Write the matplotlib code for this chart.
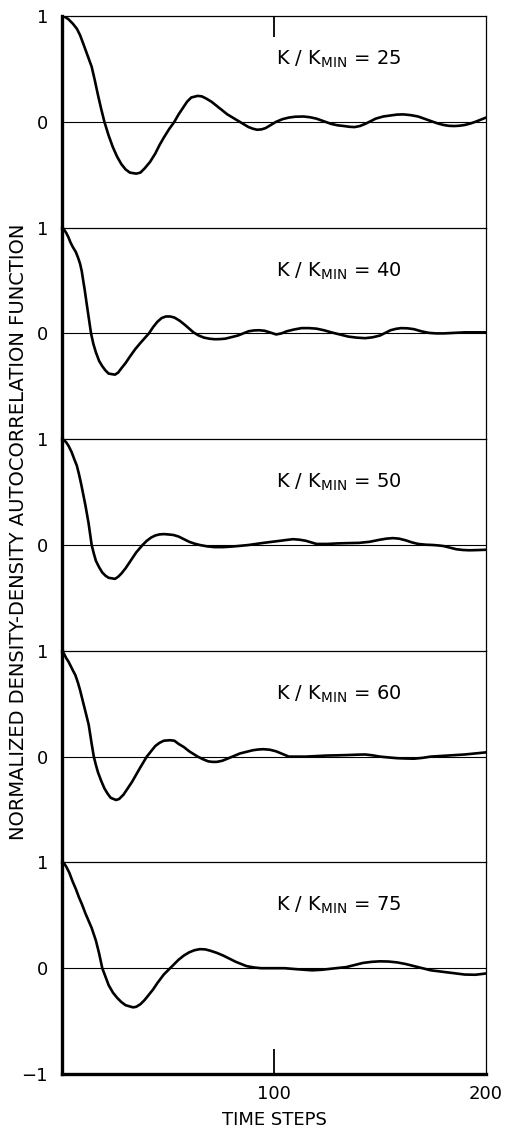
import matplotlib.pyplot as plt

# Valores (pasos de tiempo, autocorrelacion normalizada)
relaciones = [25, 40, 50, 60, 75]

t_25 = [0, 1.5, 3, 5, 7, 8.5, 10, 12, 14, 15.5, 17, 18.5, 20, 22, 24, 26, 28, 30, 32,
        35, 37, 39, 41.5, 44, 46, 48, 50.5, 53, 55, 57, 59, 61, 64, 66, 68, 70.5, 73,
        75.5, 78, 80.5, 83, 85.5, 88, 90, 92, 94, 96, 98.5, 101, 104, 107, 110, 114,
        117, 120, 123.5, 127, 130, 133, 135.5, 138, 140.5, 143, 145.5, 148, 151.5,
        155, 158, 161, 164.5, 168, 171.5, 175, 177.5, 180, 182.5, 185, 187.5, 190,
        192.5, 195, 197.5, 200]
c_25 = [1.0, 0.99, 0.97, 0.93, 0.88, 0.82, 0.74, 0.63, 0.52, 0.39, 0.25, 0.12, 0.0,
        -0.13, -0.24, -0.33, -0.40, -0.45, -0.48, -0.49, -0.48, -0.44, -0.38, -0.30,
        -0.22, -0.15, -0.07, 0.0, 0.07, 0.13, 0.19, 0.23, 0.245, 0.24, 0.22, 0.19,
        0.15, 0.11, 0.07, 0.04, 0.01, -0.02, -0.05, -0.065, -0.075, -0.072, -0.06,
        -0.03, 0.0, 0.025, 0.04, 0.048, 0.05, 0.043, 0.03, 0.005, -0.02, -0.033,
        -0.04, -0.047, -0.05, -0.04, -0.02, 0.005, 0.03, 0.05, 0.06, 0.068, 0.07,
        0.063, 0.05, 0.025, 0.0, -0.017, -0.03, -0.038, -0.04, -0.037, -0.03, -0.017,
        0.0, 0.02, 0.04]

t_40 = [0, 1, 2, 3, 4, 5, 6.5, 7.5, 8.5, 9.3, 10, 10.8, 11.5, 12.6, 13.7, 14.8, 16,
        17.5, 19, 20.5, 22, 25, 26.5, 28, 30, 32, 34.5, 37, 39, 41, 43, 45, 47, 49, 51,
        53, 55.5, 58, 60, 62, 64.5, 67, 69.5, 72, 74.5, 77, 80, 83, 85.5, 88, 90.5, 93,
        95.5, 98, 101, 103.5, 106, 109.5, 113, 116.5, 120, 123.5, 127, 131, 135, 139,
        143, 146.5, 150, 152.5, 155, 157.5, 160, 163, 166, 169.5, 173, 176.5, 180,
        185, 190, 195, 200]
c_40 = [1.0, 0.98, 0.95, 0.91, 0.86, 0.82, 0.77, 0.72, 0.66, 0.59, 0.5, 0.4, 0.3,
        0.15, 0.0, -0.1, -0.18, -0.26, -0.31, -0.35, -0.38, -0.39, -0.37, -0.33,
        -0.28, -0.22, -0.15, -0.09, -0.045, 0.0, 0.06, 0.11, 0.145, 0.16, 0.16, 0.15,
        0.12, 0.08, 0.045, 0.01, -0.02, -0.04, -0.05, -0.055, -0.054, -0.05, -0.035,
        -0.02, 0.0, 0.02, 0.028, 0.03, 0.025, 0.01, -0.01, 0.0, 0.02, 0.037, 0.05,
        0.05, 0.045, 0.03, 0.01, -0.01, -0.03, -0.04, -0.045, -0.037, -0.02, 0.005,
        0.03, 0.043, 0.05, 0.048, 0.04, 0.02, 0.005, 0.0, 0.0, 0.005, 0.01, 0.01, 0.01]

t_50 = [0, 1, 2, 3, 4.5, 6, 7, 8, 9, 10, 11, 12.5, 14, 15, 16, 17.5, 19, 20.5, 22, 25,
        26.5, 28, 30, 32, 35, 38, 40, 42, 44, 46, 48, 50, 52.5, 55, 57.5, 60, 62.5, 65,
        68.5, 72, 76, 80, 84, 88, 91.5, 95, 99, 103, 106, 109, 112, 115, 117.5, 120,
        125, 130, 135, 140, 145, 150, 153, 156, 159, 162, 165, 168, 171.5, 175, 177.5,
        180, 183, 186, 189, 192, 196, 200]
c_50 = [1.0, 0.99, 0.97, 0.94, 0.88, 0.8, 0.75, 0.67, 0.58, 0.48, 0.38, 0.21, 0.0,
        -0.08, -0.15, -0.21, -0.26, -0.29, -0.31, -0.32, -0.3, -0.27, -0.22, -0.16,
        -0.07, 0.0, 0.04, 0.07, 0.09, 0.1, 0.103, 0.1, 0.095, 0.08, 0.055, 0.03, 0.013,
        0.0, -0.013, -0.02, -0.02, -0.015, -0.008, 0.0, 0.01, 0.02, 0.03, 0.04, 0.048,
        0.055, 0.05, 0.04, 0.025, 0.01, 0.01, 0.015, 0.018, 0.02, 0.03, 0.05, 0.06,
        0.065, 0.06, 0.045, 0.025, 0.01, 0.003, 0.0, -0.004, -0.01, -0.025, -0.04,
        -0.047, -0.05, -0.048, -0.045]

t_60 = [0, 1, 2, 3, 4, 5, 6.3, 7.5, 8.5, 9.5, 10.5, 11.5, 12.6, 13.3, 14, 15, 16,
        17, 18.5, 20, 21.5, 23, 25.5, 27, 29, 31, 33, 35, 37, 38.5, 40, 42, 44, 46, 48,
        51, 53, 55, 57.5, 60, 62, 64, 66.5, 69, 71, 73, 75.5, 78, 81, 84, 87, 90, 92.5,
        95, 98, 101, 104, 107, 111, 115, 120, 125, 130, 135, 139, 143, 146.5, 150, 154,
        158, 162, 166, 170, 174, 178, 182, 186, 190, 195, 200]
c_60 = [1.0, 0.97, 0.93, 0.9, 0.86, 0.82, 0.77, 0.7, 0.63, 0.55, 0.47, 0.39, 0.3,
        0.21, 0.12, 0.0, -0.08, -0.15, -0.23, -0.30, -0.35, -0.39, -0.41, -0.4, -0.36,
        -0.3, -0.24, -0.17, -0.1, -0.05, 0.0, 0.05, 0.1, 0.13, 0.15, 0.155, 0.15, 0.12,
        0.09, 0.05, 0.025, 0.0, -0.025, -0.045, -0.05, -0.05, -0.04, -0.02, 0.005,
        0.03, 0.045, 0.06, 0.067, 0.07, 0.065, 0.05, 0.025, 0.0, 0.0, 0.0, 0.005, 0.01,
        0.012, 0.015, 0.018, 0.02, 0.012, 0.0, -0.008, -0.015, -0.018, -0.02, -0.012,
        0.0, 0.005, 0.01, 0.015, 0.02, 0.03, 0.04]

t_75 = [0, 1, 2, 3.5, 5, 6.5, 8, 9.5, 11, 12.5, 14, 16, 17.5, 19, 20.5, 22, 24, 26,
        28, 30, 33.5, 35, 37, 39, 41, 43, 45, 48, 51, 53, 55, 57.5, 60, 62.5, 65,
        67.5, 70, 73, 76, 79, 82, 84.5, 87, 90.5, 94, 100, 105, 111, 118, 122.5, 127,
        130.5, 134, 138, 142, 146, 150, 154, 158, 162, 166, 170, 174, 178, 182, 186,
        190, 195, 200]
c_75 = [1.0, 0.99, 0.96, 0.9, 0.82, 0.75, 0.67, 0.6, 0.52, 0.45, 0.38, 0.26, 0.14,
        0.0, -0.08, -0.16, -0.23, -0.28, -0.32, -0.35, -0.37, -0.365, -0.34, -0.3,
        -0.25, -0.2, -0.14, -0.06, 0.0, 0.04, 0.08, 0.12, 0.15, 0.17, 0.18, 0.178,
        0.165, 0.145, 0.12, 0.09, 0.06, 0.04, 0.02, 0.007, 0.0, 0.0, 0.0, -0.01, -0.02,
        -0.015, -0.005, 0.003, 0.01, 0.03, 0.05, 0.06, 0.065, 0.063, 0.055, 0.04, 0.02,
        0.0, -0.02, -0.03, -0.04, -0.05, -0.06, -0.062, -0.05]

tiempos = [t_25, t_40, t_50, t_60, t_75]
curvas = [c_25, c_40, c_50, c_60, c_75]

plt.rcParams['mathtext.default'] = 'regular'

W, H = 512, 1131
fig = plt.figure(figsize=(W / 100, H / 100), dpi=100)

izq, der = 62, 486
arriba, alto = 16, 211.6

for i, (rel, t, c) in enumerate(zip(relaciones, tiempos, curvas)):
    y_sup = arriba + i * alto
    ax = fig.add_axes([izq / W, 1 - (y_sup + alto) / H, (der - izq) / W, alto / H])
    ax.plot(t, c, color='black', lw=1.9, solid_joinstyle='round', solid_capstyle='round')
    ax.axhline(0, color='black', lw=0.8)
    ax.set_xlim(0, 200)
    ax.set_ylim(-1, 1)

    ultimo = i == len(relaciones) - 1
    ax.spines['left'].set_linewidth(2.4)
    ax.spines['top'].set_linewidth(0.9)
    ax.spines['right'].set_linewidth(0.9)
    ax.spines['bottom'].set_linewidth(2.4)
    ax.spines['bottom'].set_visible(ultimo)

    if ultimo:
        ax.set_yticks([-1, 0, 1])
        ax.set_yticklabels(['\u22121', '0', '1'])
        ax.set_xticks([100, 200])
        ax.set_xticklabels(['100', '200'])
        ax.tick_params(axis='x', direction='in', length=18, width=1.3, pad=8,
                       labelsize=13)
        # sin marca en 200, solo la etiqueta
        ax.xaxis.get_major_ticks()[1].tick1line.set_visible(False)
        ax.set_xlabel('TIME STEPS', fontsize=13, labelpad=6)
    else:
        ax.set_yticks([0, 1])
        ax.set_yticklabels(['0', '1'])
        if i == 0:
            ax.set_xticks([100])
            ax.tick_params(axis='x', direction='in', length=15, width=1.3,
                           bottom=False, top=True, labelbottom=False)
        else:
            ax.set_xticks([])
    ax.tick_params(axis='y', length=0, pad=10, labelsize=13)

    ax.text(0.505, 0.77, r'K / K$_{MIN}$ = %d' % rel, transform=ax.transAxes,
            fontsize=14, ha='left', va='baseline')

fig.text(19 / W, 1 - 532 / H, 'NORMALIZED DENSITY-DENSITY AUTOCORRELATION FUNCTION',
         rotation=90, ha='center', va='center', fontsize=14)

plt.savefig('out.png', dpi=100)
plt.close(fig)
